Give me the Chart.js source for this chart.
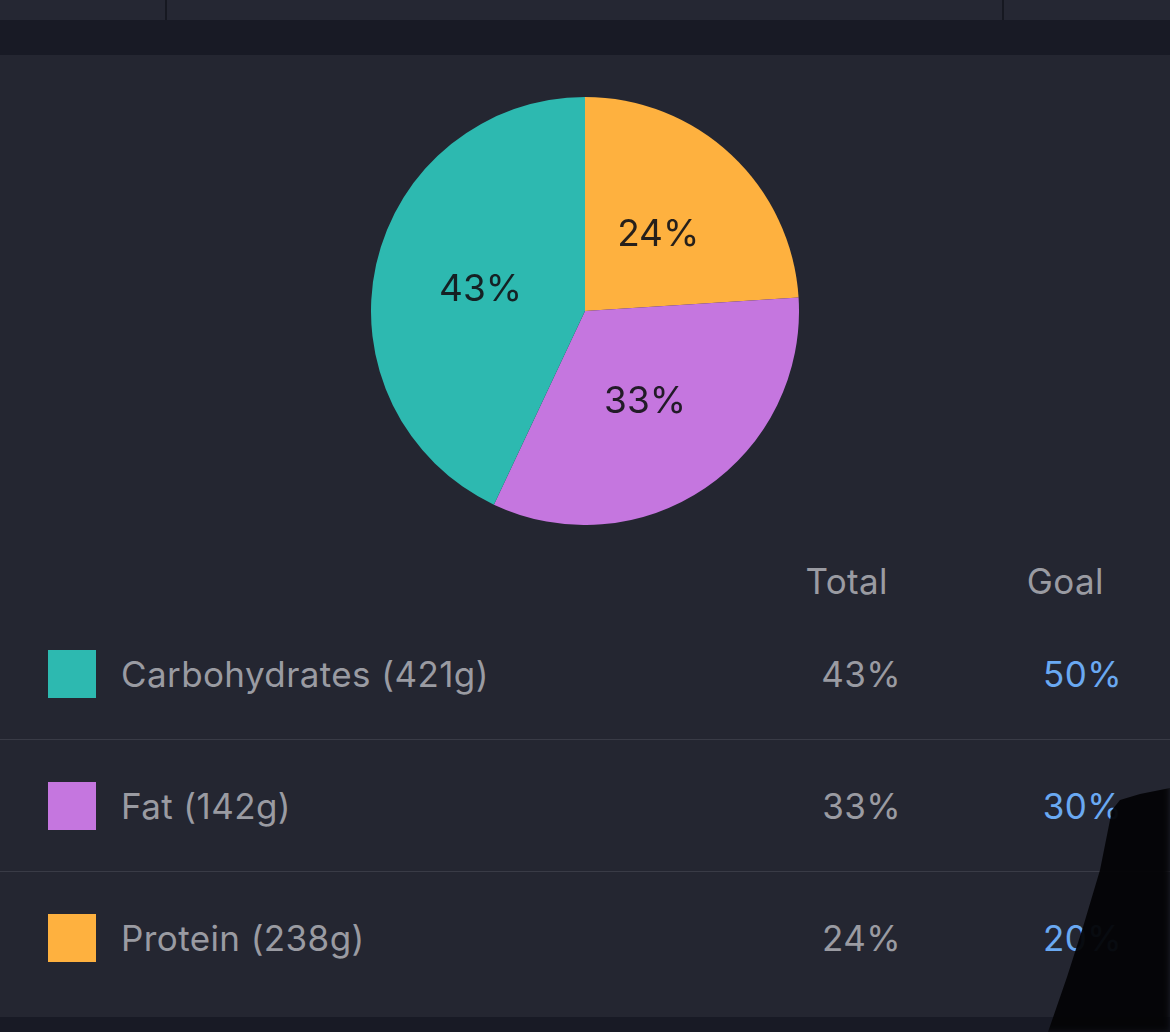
<!DOCTYPE html>
<html>
<head>
<meta charset="utf-8">
<script src="https://cdn.jsdelivr.net/npm/chart.js@4.4.1/dist/chart.umd.min.js"></script>
<style>
    html, body { margin: 0; padding: 0; }
    body {
        width: 1170px; height: 1032px; overflow: hidden; position: relative;
        background: #181a25; font-family: 'Inter', 'Roboto', sans-serif;
    }
    .topbar { position: absolute; left: 0; top: 0; width: 1170px; height: 20px; background: #252733; }
    .topbar .sep { position: absolute; top: 0; width: 2px; height: 20px; background: #161821; }
    .panel { position: absolute; left: 0; top: 55px; width: 1170px; height: 962px; background: #242631; }
    .chart-box { position: absolute; left: 371px; top: 97px; width: 428px; height: 428px; }
    .head { position: absolute; top: 561px; height: 40px; line-height: 40px; font-size: 35px; letter-spacing: 0.4px; color: #9a9ba2; }
    .row { position: absolute; left: 0; width: 1170px; height: 132px; }
    .row .line { position: absolute; left: 0; right: 0; bottom: 0; height: 1px; background: #393b46; }
    .swatch { position: absolute; left: 48px; top: 42px; width: 48px; height: 48px; }
    .cell { position: absolute; top: 46px; height: 40px; line-height: 40px; font-size: 35px; letter-spacing: 0.4px; color: #9a9ba2; white-space: nowrap; }
    .goal { color: #6aa9f2; }
    .shadow {
        position: absolute; left: 1040px; top: 780px; width: 130px; height: 252px; background: #050507;
        clip-path: polygon(72px 30px, 80px 20px, 100px 14px, 130px 8px, 130px 252px, 8px 252px, 27px 197px, 43px 147px, 60px 90px, 68px 50px);
        filter: blur(3px); opacity: 0.96;
    }
</style>
</head>
<body>
<div class="topbar">
    <div class="sep" style="left:165px"></div>
    <div class="sep" style="left:1002px"></div>
</div>
<div class="panel"></div>
<div class="chart-box"><canvas id="macroChart"></canvas></div>
<div class="head" style="right:282px">Total</div>
<div class="head" style="right:66px">Goal</div>
<div id="table"></div>
<div class="shadow"></div>

<script>
// Macro split - table order
const categories = ['Carbohydrates', 'Fat', 'Protein'];
const grams = [421, 142, 238];
const totalPct = [43, 33, 24];
const goalPct = [50, 30, 20];
const colors = ['#2db9b0', '#c576df', '#feb13f'];

// Build table rows
const table = document.getElementById('table');
categories.forEach((name, i) => {
    const row = document.createElement('div');
    row.className = 'row';
    row.style.top = (608 + i * 132) + 'px';
    row.innerHTML = `
        <div class="swatch" style="background:${colors[i]}"></div>
        <div class="cell" style="left:121px">${name} (${grams[i]}g)</div>
        <div class="cell" style="right:269px">${totalPct[i]}%</div>
        <div class="cell goal" style="right:48px">${goalPct[i]}%</div>
        ${i < categories.length - 1 ? '<div class="line"></div>' : ''}
    `;
    table.appendChild(row);
});

// Percent labels drawn in the middle of each slice
const sliceLabels = {
    id: 'sliceLabels',
    afterDatasetsDraw(chart) {
        const ctx = chart.ctx;
        const meta = chart.getDatasetMeta(0);
        ctx.save();
        ctx.font = '37px Inter, Roboto, sans-serif';
        ctx.fillStyle = 'rgba(20, 20, 24, 0.92)';
        ctx.textAlign = 'center';
        ctx.textBaseline = 'middle';
        meta.data.forEach((arc, i) => {
            const pos = arc.tooltipPosition();
            ctx.fillText(chart.data.datasets[0].data[i] + '%', pos.x, pos.y + 2);
        });
        ctx.restore();
    }
};

// Pie runs clockwise from the top, so feed it in reverse order
const order = [2, 1, 0];
new Chart(document.getElementById('macroChart'), {
    type: 'pie',
    data: {
        labels: order.map(i => categories[i]),
        datasets: [{
            data: order.map(i => totalPct[i]),
            backgroundColor: order.map(i => colors[i]),
            borderWidth: 0,
        }]
    },
    options: {
        responsive: true,
        maintainAspectRatio: false,
        animation: false,
        layout: { padding: 0 },
        plugins: {
            legend: { display: false },
            tooltip: { enabled: false },
        }
    },
    plugins: [sliceLabels]
});
</script>
</body>
</html>
